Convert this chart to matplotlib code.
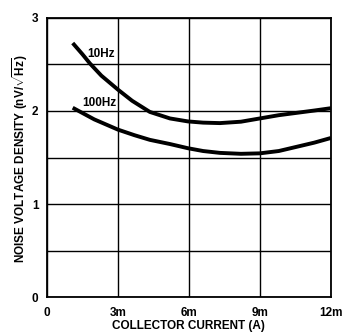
import matplotlib.pyplot as plt
import numpy as np

plt.rcParams["font.family"] = ["Liberation Sans", "DejaVu Sans"]
plt.rcParams["font.weight"] = "bold"
plt.rcParams["mathtext.fontset"] = "custom"
plt.rcParams["mathtext.bf"] = "Liberation Sans:bold"
plt.rcParams["mathtext.rm"] = "Liberation Sans:bold"

# ==========================================
# Data
# ==========================================
x_10hz = [1.09, 1.5, 1.82, 2.3, 3.0, 3.6, 4.35, 5.2, 5.96, 6.6, 7.31, 8.2, 9.0, 9.8, 10.55, 11.3, 12.0]
y_10hz = [2.73, 2.61, 2.51, 2.38, 2.23, 2.11, 1.99, 1.92, 1.888, 1.875, 1.87, 1.885, 1.92, 1.955, 1.98, 2.005, 2.03]

x_100hz = [1.09, 2.0, 3.0, 3.7, 4.35, 5.2, 5.96, 6.6, 7.31, 8.2, 9.0, 9.8, 10.55, 11.3, 12.0]
y_100hz = [2.035, 1.91, 1.80, 1.74, 1.69, 1.645, 1.60, 1.57, 1.55, 1.54, 1.545, 1.57, 1.615, 1.66, 1.71]

x_ticks = [0, 3, 6, 9, 12]
x_ticklabels = ["0", "3m", "6m", "9m", "12m"]
y_ticks = [0, 1, 2, 3]

# ==========================================
# Figure
# ==========================================
fig = plt.figure(figsize=(3.45, 3.32), dpi=100)
ax = fig.add_axes([0.136, 0.105, 0.823, 0.841])

ax.plot(x_10hz, y_10hz, color="black", linewidth=2.8, solid_capstyle="butt")
ax.plot(x_100hz, y_100hz, color="black", linewidth=2.8, solid_capstyle="butt")

ax.text(2.30, 2.61, "10Hz", fontsize=8.5, fontweight="bold", ha="center", va="center")
ax.text(2.22, 2.09, "100Hz", fontsize=8.5, fontweight="bold", ha="center", va="center")

ax.set_xlim(0, 12)
ax.set_ylim(0, 3)
ax.set_xticks(x_ticks)
ax.set_xticklabels(x_ticklabels)
ax.set_yticks(y_ticks)
ax.set_yticks(np.arange(0, 3.01, 0.5), minor=True)
ax.tick_params(which="both", length=0, labelsize=8.5)
ax.tick_params(axis="x", pad=7)
ax.tick_params(axis="y", pad=6)

ax.grid(which="both", color="black", linewidth=1.0)
for s in ax.spines.values():
    s.set_linewidth(1.3)

# axis titles placed directly on the figure
fig.text(188 / 345, 1 - 326 / 332, "COLLECTOR CURRENT (A)", fontsize=8.5,
         fontweight="bold", ha="center", va="center")
fig.text(20 / 345, 1 - 159 / 332, r"NOISE VOLTAGE DENSITY (nV/$\mathbf{\sqrt{Hz}}$)",
         fontsize=8.5, fontweight="bold", ha="center", va="center", rotation=90)

plt.savefig("out.png", dpi=100)
